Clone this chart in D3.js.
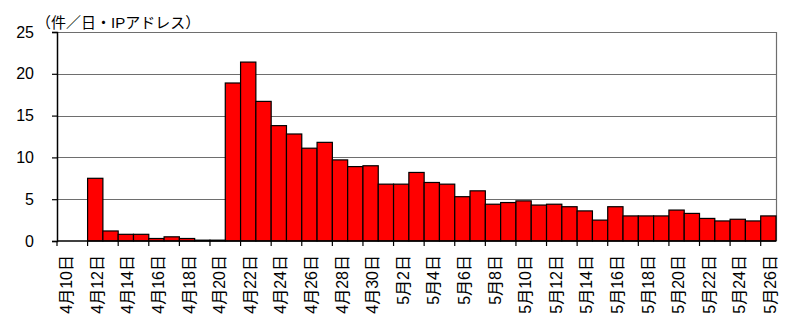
<!DOCTYPE html>
<html>
<head>
<meta charset="utf-8">
<script src="https://cdn.jsdelivr.net/npm/d3@7"></script>
<style>
  body { margin: 0; background: #fff; }
  svg { display: block; font-family: "Liberation Sans", Arial, "Noto Sans CJK JP", sans-serif; }
</style>
</head>
<body>
<svg id="chart"></svg>
<script>
// Daily incidents per IP address
const dates = [
  "4月10日", "4月11日", "4月12日", "4月13日", "4月14日", "4月15日", "4月16日", "4月17日",
  "4月18日", "4月19日", "4月20日", "4月21日", "4月22日", "4月23日", "4月24日", "4月25日",
  "4月26日", "4月27日", "4月28日", "4月29日", "4月30日",
  "5月1日", "5月2日", "5月3日", "5月4日", "5月5日", "5月6日", "5月7日", "5月8日",
  "5月9日", "5月10日", "5月11日", "5月12日", "5月13日", "5月14日", "5月15日", "5月16日",
  "5月17日", "5月18日", "5月19日", "5月20日", "5月21日", "5月22日", "5月23日", "5月24日",
  "5月25日", "5月26日"
];
const counts = [
  0, 0, 7.5, 1.2, 0.8, 0.8, 0.3, 0.5, 0.3, 0.1, 0.1,
  18.9, 21.4, 16.7, 13.8, 12.8, 11.1, 11.8, 9.7, 8.9, 9.0,
  6.8, 6.8, 8.2, 7.0, 6.8, 5.3, 6.0, 4.4, 4.6, 4.8,
  4.3, 4.4, 4.1, 3.6, 2.5, 4.1, 3.0, 3.0, 3.0, 3.7,
  3.3, 2.7, 2.4, 2.6, 2.4, 3.0
];
const yTicks = [0, 5, 10, 15, 20, 25];
const unitLabel = "（件／日・IPアドレス）";

const width = 800;
const height = 336;
const margin = { top: 32, right: 24, bottom: 95, left: 57 };

const svg = d3.select("#chart").attr("width", width).attr("height", height);

const x = d3.scaleBand()
  .domain(dates)
  .range([margin.left, width - margin.right])
  .paddingInner(0)
  .paddingOuter(0);

const y = d3.scaleLinear()
  .domain([0, 25])
  .range([height - margin.bottom, margin.top]);

// Gridlines
svg.append("g")
  .selectAll("line")
  .data(yTicks.filter(d => d > 0))
  .join("line")
  .attr("x1", margin.left)
  .attr("x2", width - margin.right)
  .attr("y1", d => Math.round(y(d)) + 0.5)
  .attr("y2", d => Math.round(y(d)) + 0.5)
  .attr("stroke", "#6e6e6e")
  .attr("stroke-width", 1.2);

// Right border of plot area
svg.append("line")
  .attr("x1", width - margin.right + 0.5)
  .attr("x2", width - margin.right + 0.5)
  .attr("y1", y(25))
  .attr("y2", y(0))
  .attr("stroke", "#6e6e6e")
  .attr("stroke-width", 1.2);

// Bars
svg.append("g")
  .selectAll("rect")
  .data(counts)
  .join("rect")
  .attr("x", (d, i) => x(dates[i]))
  .attr("y", d => y(d))
  .attr("width", x.bandwidth())
  .attr("height", d => y(0) - y(d))
  .attr("fill", "#ff0000")
  .attr("stroke", d => d > 0 ? "#000" : "none")
  .attr("stroke-width", 1.2);

// Y axis
const yAxis = d3.axisLeft(y)
  .tickValues(yTicks)
  .tickSize(5)
  .tickPadding(18)
  .tickFormat(d3.format("d"));

const yG = svg.append("g")
  .attr("transform", `translate(${margin.left},0)`)
  .call(yAxis);
yG.select(".domain").attr("stroke", "#000").attr("stroke-width", 1.5);
yG.selectAll(".tick line").attr("stroke", "#000").attr("stroke-width", 1.2);
yG.selectAll(".tick text")
  .attr("font-size", 16)
  .attr("fill", "#000");

// X axis: ticks every two days at the left edge of the band
const xG = svg.append("g");
xG.append("line")
  .attr("x1", margin.left)
  .attr("x2", width - margin.right)
  .attr("y1", y(0))
  .attr("y2", y(0))
  .attr("stroke", "#000")
  .attr("stroke-width", 1.5);

const labelled = dates.filter((d, i) => i % 2 === 0);

xG.selectAll("line.tick")
  .data(labelled)
  .join("line")
  .attr("class", "tick")
  .attr("x1", d => x(d))
  .attr("x2", d => x(d))
  .attr("y1", y(0))
  .attr("y2", y(0) + 5)
  .attr("stroke", "#000")
  .attr("stroke-width", 1.2);

xG.selectAll("text")
  .data(labelled)
  .join("text")
  .attr("transform", d => `translate(${x(d) + x.bandwidth() / 2 + 2},${y(0) + 14}) rotate(-90)`)
  .attr("text-anchor", "end")
  .attr("dy", "0.35em")
  .attr("font-size", 16)
  .attr("fill", "#000")
  .text(d => d);

// Unit label
svg.append("text")
  .attr("x", 36)
  .attr("y", 28)
  .attr("font-size", 15)
  .attr("fill", "#000")
  .text(unitLabel);
</script>
</body>
</html>
